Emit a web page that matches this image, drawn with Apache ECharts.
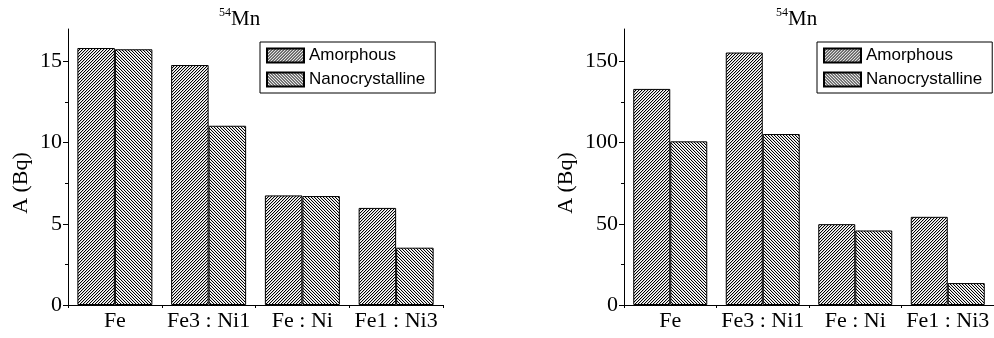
<!DOCTYPE html>
<html>
<head>
    <meta charset="utf-8">
    <style>
        html, body { width: 100%; height: 100%; margin: 0; background: #fff; }
        #chart-panel { width: 994px; height: 338px; }
    </style>
    <script src="https://cdn.jsdelivr.net/npm/echarts@6/dist/echarts.min.js"></script>
</head>
<body>
<div id="chart-panel"></div>
<script type="text/javascript">
  // data
  var categories = ['Fe', 'Fe3 : Ni1', 'Fe : Ni', 'Fe1 : Ni3'];
  var seriesNames = ['Amorphous', 'Nanocrystalline'];
  var leftAmorphous = [15.83, 14.78, 6.75, 5.98];
  var leftNano = [15.75, 11.04, 6.71, 3.53];
  var rightAmorphous = [133.1, 155.5, 49.8, 54.3];
  var rightNano = [100.8, 105.3, 45.9, 13.5];
  var leftTicks = { min: 0, max: 17, interval: 5, labels: [0, 5, 10, 15] };
  var rightTicks = { min: 0, max: 170, interval: 50, labels: [0, 50, 100, 150] };

  // small hatch tiles, '/' for amorphous and '\' for nanocrystalline
  function hatch(forward, mid) {
    var c = document.createElement('canvas');
    c.width = 3; c.height = 3;
    var g = c.getContext('2d');
    g.fillStyle = '#fff';
    g.fillRect(0, 0, 3, 3);
    for (var i = 0; i < 3; i++) {
      var x = forward ? 2 - i : i;
      g.fillStyle = '#000';
      g.fillRect(x, i, 1, 1);
      g.fillStyle = mid;
      g.fillRect((x + 1) % 3, i, 1, 1);
    }
    return { image: c, repeat: 'repeat' };
  }
  var amorphFill = hatch(true, '#c8c8c8');
  var nanoFill = hatch(false, '#d8d8d8');

  var serif = 'Liberation Serif';
  var sans = 'Liberation Sans';

  function titleOf(left) {
    return {
      text: '{sup|54}{base|Mn}',
      left: left, top: 7, padding: 0,
      textStyle: {
        fontWeight: 'normal', fontSize: 21,
        rich: {
          sup: { fontFamily: serif, fontSize: 12, fontWeight: 'normal', color: '#000', verticalAlign: 'top', lineHeight: 24 },
          base: { fontFamily: serif, fontSize: 21, fontWeight: 'normal', color: '#000', lineHeight: 24 }
        }
      }
    };
  }

  function legendOf(left) {
    return {
      data: seriesNames,
      orient: 'vertical',
      left: left, top: 42,
      padding: [5, 10, 5, 6],
      itemGap: 7,
      itemWidth: 37, itemHeight: 14,
      icon: 'rect',
      borderColor: '#000', borderWidth: 1,
      textStyle: { fontFamily: sans, fontSize: 17, color: '#000', lineHeight: 14 },
      selectedMode: false
    };
  }

  function xAxisOf(grid) {
    return {
      type: 'category', gridIndex: grid, data: categories,
      axisLine: { lineStyle: { color: '#000', width: 1 } },
      axisTick: { show: true, length: 3, lineStyle: { color: '#000' } },
      axisLabel: { fontFamily: serif, fontSize: 22, color: '#000', margin: 5, interval: 0 },
      splitLine: { show: false }
    };
  }

  function yAxisOf(grid, ticks, gap) {
    return {
      type: 'value', gridIndex: grid,
      min: ticks.min, max: ticks.max, interval: ticks.interval,
      name: 'A (Bq)', nameLocation: 'middle', nameGap: gap, nameRotate: 90,
      nameTextStyle: { fontFamily: serif, fontSize: 22, color: '#000', padding: [0, 32, 0, 0] },
      axisLine: { show: true, lineStyle: { color: '#000', width: 1 } },
      axisTick: { show: true, length: 5, customValues: ticks.labels, lineStyle: { color: '#000' } },
      minorTick: { show: true, splitNumber: 2, length: 3, lineStyle: { color: '#000' } },
      axisLabel: { fontFamily: serif, fontSize: 22, color: '#000', margin: 6, customValues: ticks.labels },
      splitLine: { show: false }
    };
  }

  function barOf(name, fill, axis, data) {
    return {
      name: name, type: 'bar', xAxisIndex: axis, yAxisIndex: axis, data: data,
      barGap: '0%', barCategoryGap: '20%',
      itemStyle: { color: fill, borderColor: '#000', borderWidth: 1 },
      emphasis: { disabled: true }
    };
  }

  var myChart = echarts.init(document.getElementById('chart-panel'));
  var option = {
    animation: false,
    title: [titleOf(219), titleOf(776)],
    legend: [legendOf(260), legendOf(817)],
    grid: [
      { left: 68, top: 29, width: 375, bottom: 33 },
      { left: 624, top: 29, width: 374, bottom: 33 }
    ],
    xAxis: [xAxisOf(0), xAxisOf(1)],
    yAxis: [yAxisOf(0, leftTicks, 36), yAxisOf(1, rightTicks, 47)],
    series: [
      barOf(seriesNames[0], amorphFill, 0, leftAmorphous),
      barOf(seriesNames[1], nanoFill, 0, leftNano),
      barOf(seriesNames[0], amorphFill, 1, rightAmorphous),
      barOf(seriesNames[1], nanoFill, 1, rightNano)
    ]
  };
  myChart.setOption(option);
</script>
</body>
</html>
